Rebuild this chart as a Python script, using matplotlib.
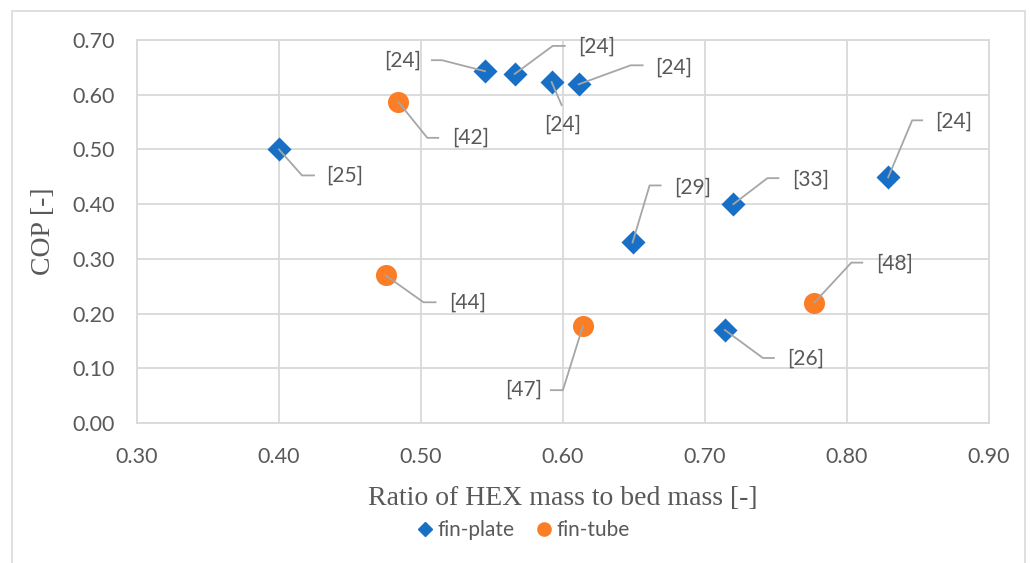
import matplotlib
matplotlib.use('Agg')
import matplotlib.pyplot as plt
import matplotlib.transforms as mtransforms
from matplotlib.patches import Rectangle
from matplotlib.lines import Line2D

# fin-plate HEX data
plate_x = [0.40, 0.545, 0.566, 0.592, 0.611, 0.649, 0.720, 0.714, 0.829]
plate_y = [0.50, 0.643, 0.638, 0.623, 0.619, 0.330, 0.400, 0.170, 0.449]
plate_ref = ['[25]', '[24]', '[24]', '[24]', '[24]', '[29]', '[33]', '[26]', '[24]']

# fin-tube HEX data
tube_x = [0.484, 0.475, 0.614, 0.777]
tube_y = [0.587, 0.270, 0.177, 0.220]
tube_ref = ['[42]', '[44]', '[47]', '[48]']

# callout layout in pixels from the point: elbow (dx, dy), horizontal tail, text centre
plate_callout = [((23, -26), 12, (66, -26)),
                 ((-43, 11), -10, (-82, 11)),
                 ((38, 28), 12, (82, 27)),
                 ((10, -23), 0, (11, -43)),
                 ((52, 19), 12, (95, 17)),
                 ((17, 57), 11, (60, 55)),
                 ((34, 26), 11, (77, 24)),
                 ((38, -28), 11, (81, -29)),
                 ((24, 57), 10, (65, 56))]
tube_callout = [((29, -36), 11, (72, -36)),
                ((38, -27), 12, (82, -27)),
                ((-20, -64), -12, (-59, -64)),
                ((37, 40), 11, (80, 39))]

blue = '#1870C6'
orange = '#FB7D25'
grey_txt = '#595959'
grid_col = '#D9D9D9'
lead_col = '#A6A6A6'

plt.rcParams['font.family'] = ['Lato', 'DejaVu Sans']

fig = plt.figure(figsize=(10.3, 5.63), dpi=100)
ax = fig.add_axes([137 / 1030, 1 - 423 / 563, 852 / 1030, 383 / 563])

# outer chart border
fig.patches.append(Rectangle((12 / 1030, -0.1), 1013 / 1030, 1.1 - 11 / 563,
                             transform=fig.transFigure, fill=False,
                             edgecolor=grid_col, linewidth=1.2))

ax.scatter(plate_x, plate_y, marker='D', s=150, color=blue, zorder=3, linewidths=0)
ax.scatter(tube_x, tube_y, marker='o', s=230, color=orange, zorder=3, linewidths=0)


def callouts(xs, ys, refs, layout):
    for x, y, ref, ((ex, ey), h, (tx, ty)) in zip(xs, ys, refs, layout):
        tr = mtransforms.Affine2D() + mtransforms.ScaledTranslation(x, y, ax.transData)
        ax.add_line(Line2D([0, ex, ex + h], [0, ey, ey], transform=tr,
                           color=lead_col, linewidth=1.3, zorder=4, clip_on=False))
        ax.annotate(ref, xy=(x, y), xytext=(tx, ty), textcoords='offset pixels',
                    ha='center', va='center', fontsize=15, color=grey_txt,
                    annotation_clip=False)


callouts(plate_x, plate_y, plate_ref, plate_callout)
callouts(tube_x, tube_y, tube_ref, tube_callout)

ax.set_xlim(0.30, 0.90)
ax.set_ylim(0.0, 0.70)
ax.set_xticks([0.30, 0.40, 0.50, 0.60, 0.70, 0.80, 0.90])
ax.set_yticks([0.0, 0.1, 0.2, 0.3, 0.4, 0.5, 0.6, 0.7])
ax.xaxis.set_major_formatter(plt.FormatStrFormatter('%.2f'))
ax.yaxis.set_major_formatter(plt.FormatStrFormatter('%.2f'))
ax.tick_params(length=0, labelsize=15.5, labelcolor=grey_txt)
ax.tick_params(axis='x', pad=17)
ax.tick_params(axis='y', pad=16)
ax.grid(True, color=grid_col, linewidth=1.3, zorder=0)
ax.set_axisbelow(True)
for sp in ax.spines.values():
    sp.set_color(grid_col)
    sp.set_linewidth(1.3)

ax.set_xlabel('Ratio of HEX mass to bed mass [-]', family='Liberation Serif',
              fontsize=20, color=grey_txt, labelpad=14)
ax.set_ylabel('COP [-]', family='Liberation Serif', fontsize=20, color=grey_txt,
              labelpad=12)

handles = [Line2D([], [], marker='D', linestyle='none', color=blue, markersize=7),
           Line2D([], [], marker='o', linestyle='none', color=orange, markersize=9.5)]
fig.legend(handles, ['fin-plate', 'fin-tube'], loc='center', bbox_to_anchor=(522 / 1030, 1 - 530 / 563),
           ncol=2, frameon=False, fontsize=15, labelcolor=grey_txt, handletextpad=0.1,
           columnspacing=0.9, handlelength=1.0)

fig.savefig('out.png', dpi=100)
